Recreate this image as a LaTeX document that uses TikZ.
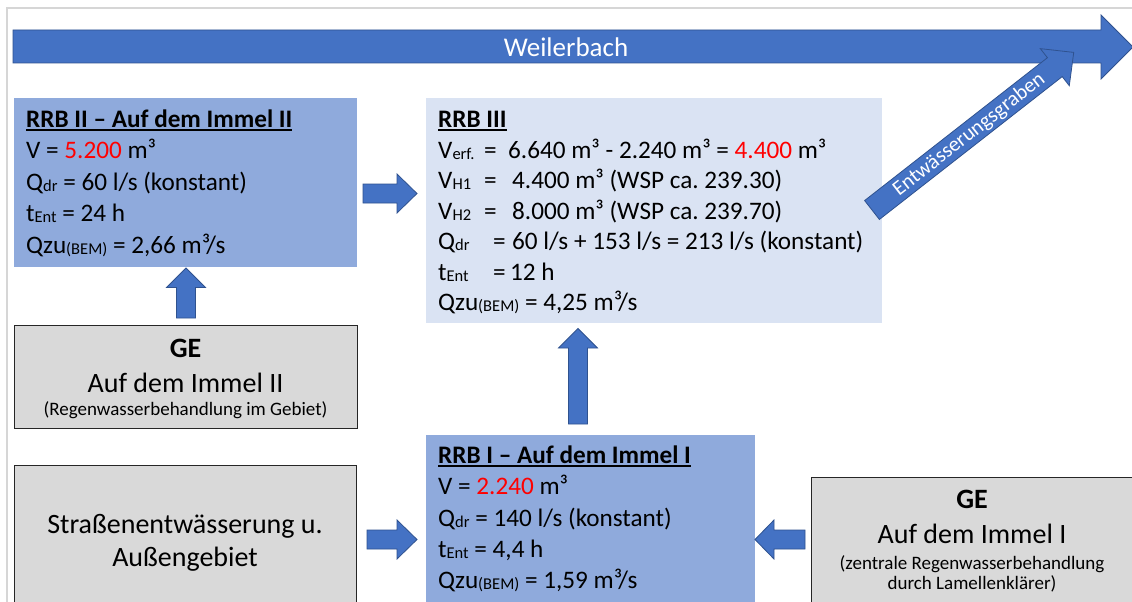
\documentclass[tikz,border=0pt]{standalone}
\usepackage{fontspec}
\setmainfont{Carlito}
\frenchspacing
\definecolor{arrowblue}{HTML}{4472C4}
\definecolor{arrowedge}{HTML}{2F528F}
\definecolor{boxmid}{HTML}{8FAADC}
\definecolor{boxlight}{HTML}{DAE3F3}
\definecolor{boxgray}{HTML}{D9D9D9}
\definecolor{framegray}{HTML}{D6D6D6}
\newcommand{\sbs}[1]{\raisebox{-1.3pt}{\fontsize{16.5}{16.5}\selectfont #1}}
\newcommand{\ulbox}[1]{\setbox0\hbox{#1}\rlap{\rule[-3.6pt]{\wd0}{1.7pt}}\box0}
\begin{document}
\begin{tikzpicture}[x=1pt,y=-1pt,
  blk/.style={fill=arrowblue, draw=arrowedge, line width=0.8pt, line join=miter},
  boxmidst/.style={fill=boxmid, draw=none, anchor=north west, inner sep=0pt, outer sep=0pt},
  boxlightst/.style={fill=boxlight, draw=none, anchor=north west, inner sep=0pt, outer sep=0pt},
  boxgrayst/.style={fill=boxgray, draw=black!85, line width=1pt, anchor=north west, inner sep=0pt, outer sep=0pt},
  ln/.style={anchor=base west, inner sep=0pt, font=\fontsize{25.2}{30}\selectfont\frenchspacing},
  cl/.style={anchor=base, inner sep=0pt, font=\fontsize{28}{32}\selectfont},
  clb/.style={anchor=base, inner sep=0pt, font=\fontsize{28}{32}\selectfont\bfseries},
  sm/.style={anchor=base, inner sep=0pt, font=\fontsize{19}{22}\selectfont}
]
\useasboundingbox (0,0) rectangle (1132,602);
\clip (0,0) rectangle (1132,602);
\fill[white] (0,0) rectangle (1132,602);
% frame lines
\draw[framegray, line width=1.5pt] (7,610) -- (7,8) -- (1140,8);

% boxes
\node[boxmidst, minimum width=343pt, minimum height=169pt] (rrb2) at (14,98) {};
\node[boxlightst, minimum width=456pt, minimum height=225pt] (rrb3) at (426,98) {};
\node[boxgrayst, minimum width=343pt, minimum height=103pt] (ge2) at (14,325) {};
\node[boxgrayst, minimum width=342pt, minimum height=160pt] (str) at (14,465) {};
\node[boxmidst, minimum width=329pt, minimum height=180pt] (rrb1) at (426,435) {};
\node[boxgrayst, minimum width=340pt, minimum height=140pt] (ge1) at (811,477) {};

% Weilerbach arrow
\draw[blk] (13,30) -- (1101,30) -- (1101,15) -- (1133,47) -- (1101,79) -- (1101,63) -- (13,63) -- cycle;
\node[text=white, font=\fontsize{27}{30}\selectfont, inner sep=0pt] (wb) at (566,47) {Weilerbach};

% Entwaesserungsgraben arrow
\begin{scope}[shift={(872,210)}, rotate=38]
\draw[blk] (0,-12) -- (232,-12) -- (232,-23.5) -- (256,0) -- (232,23.5) -- (232,12) -- (0,12) -- cycle;
\node[rotate=38, text=white, font=\fontsize{21}{22}\selectfont, inner sep=0pt] (eg) at (123,0.5) {Entwässerungsgraben};
\end{scope}

% block arrows
% RRB II -> RRB III
\draw[blk] (363,184) -- (397,184) -- (397,174) -- (417,193.5) -- (397,213) -- (397,203) -- (363,203) -- cycle;
% GE II -> RRB II
\draw[blk] (176.5,318) -- (176.5,287.5) -- (166.5,287.5) -- (186,268) -- (205.5,287.5) -- (195.5,287.5) -- (195.5,318) -- cycle;
% RRB I -> RRB III
\draw[blk] (568.5,424) -- (568.5,348) -- (558.5,348) -- (578,328.5) -- (597.5,348) -- (587.5,348) -- (587.5,424) -- cycle;
% Strassen -> RRB I
\draw[blk] (367,530) -- (397,530) -- (397,520) -- (417,539.5) -- (397,559) -- (397,549) -- (367,549) -- cycle;
% GE I -> RRB I
\draw[blk] (805,530) -- (774,530) -- (774,520) -- (755,539.5) -- (774,559) -- (774,549) -- (805,549) -- cycle;

% RRB II text
\node[ln] (r2a) at (26,127) {\ulbox{\textbf{RRB II – Auf dem Immel II}}};
\node[ln] (r2b) at (26,158.5) {V = \textcolor{red}{5.200} m³};
\node[ln] (r2c) at (26,190) {Q\sbs{dr} = 60 l/s (konstant)};
\node[ln] (r2d) at (26,221.5) {t\sbs{Ent} = 24 h};
\node[ln] (r2e) at (26,253) {Qzu\sbs{(BEM)} = 2,66 m³/s};

% RRB III text
\node[ln] (r3a) at (438,127.5) {\ulbox{\textbf{RRB III}}};
\node[ln] (r3b) at (438,158) {\makebox[46pt][l]{V\sbs{erf.}}\makebox[24pt][l]{=}6.640 m³ - 2.240 m³ = \textcolor{red}{4.400} m³};
\node[ln] (r3c) at (438,188.5) {\makebox[46pt][l]{V\sbs{H1}}\makebox[28pt][l]{=}4.400 m³ (WSP ca. 239.30)};
\node[ln] (r3d) at (438,219) {\makebox[46pt][l]{V\sbs{H2}}\makebox[28pt][l]{=}8.000 m³ (WSP ca. 239.70)};
\node[ln] (r3e) at (438,249.5) {\makebox[55pt][l]{Q\sbs{dr}}\makebox[19pt][l]{=}60 l/s + 153 l/s = 213 l/s (konstant)};
\node[ln] (r3f) at (438,280) {\makebox[55pt][l]{t\sbs{Ent}}\makebox[17pt][l]{=}12 h};
\node[ln] (r3g) at (438,310) {Qzu\sbs{(BEM)} = 4,25 m³/s};

% RRB I text
\node[ln] (r1a) at (438,463) {\ulbox{\textbf{RRB I – Auf dem Immel I}}};
\node[ln] (r1b) at (438,494.5) {V = \textcolor{red}{2.240} m³};
\node[ln] (r1c) at (438,526) {Q\sbs{dr} = 140 l/s (konstant)};
\node[ln] (r1d) at (438,557) {t\sbs{Ent} = 4,4 h};
\node[ln] (r1e) at (438,588) {Qzu\sbs{(BEM)} = 1,59 m³/s};

% GE II text
\node[clb] (g2a) at (185.5,357) {GE};
\node[cl] (g2b) at (185.5,392) {Auf dem Immel II};
\node[sm] (g2c) at (185.5,415) {(Regenwasserbehandlung im Gebiet)};

% Strassen text
\node[cl] (s1) at (185,533) {Straßenentwässerung u.};
\node[cl] (s2) at (185,566) {Außengebiet};

% GE I text
\node[clb] (g1a) at (972,508) {GE};
\node[cl] (g1b) at (972,543) {Auf dem Immel I};
\node[sm] (g1c) at (972,569) {(zentrale Regenwasserbehandlung};
\node[sm] (g1d) at (972,589) {durch Lamellenklärer)};
\end{tikzpicture}
\end{document}
